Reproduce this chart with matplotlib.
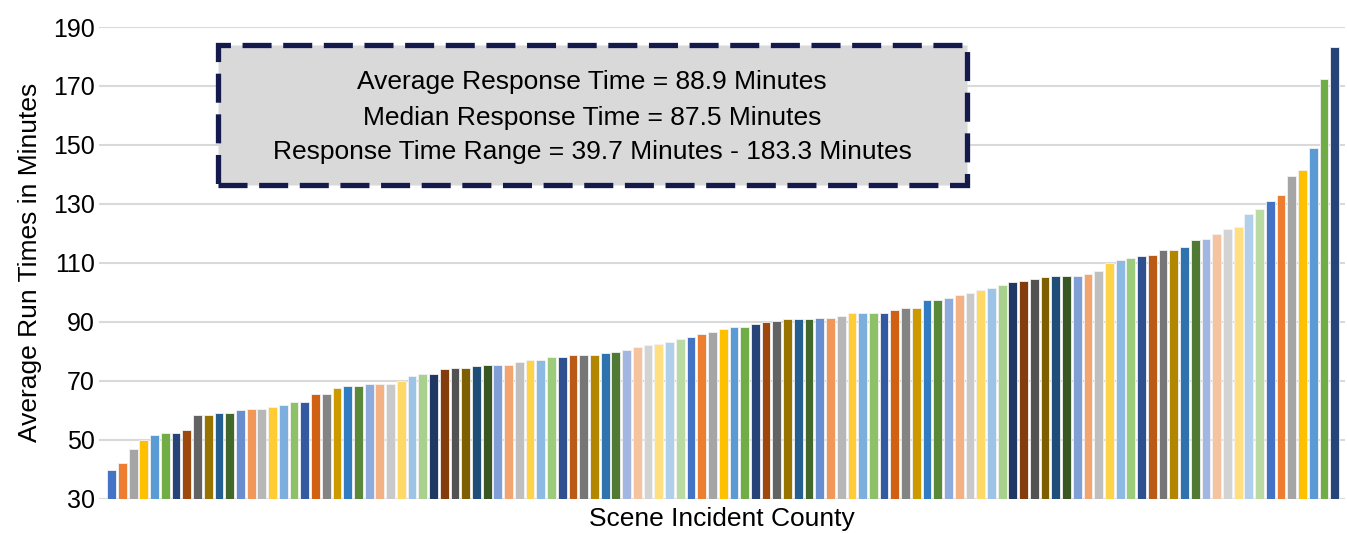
import numpy as np
import matplotlib
matplotlib.use("Agg")
import matplotlib.pyplot as plt
from matplotlib.patches import Rectangle

plt.rcParams["font.family"] = ["Liberation Sans", "DejaVu Sans"]

# average run time per scene incident county, sorted ascending
run_times = [
    39.7, 41.9, 46.9, 49.7, 51.7, 52.4, 52.4, 53.4, 58.5, 58.5,
    58.9, 58.9, 60.0, 60.5, 60.5, 61.1, 61.6, 62.7, 62.8, 65.6,
    65.6, 67.6, 68.3, 68.3, 68.8, 68.8, 68.8, 69.9, 71.5, 72.1,
    72.1, 73.8, 74.4, 74.4, 74.9, 75.4, 75.4, 75.4, 76.4, 77.1,
    77.1, 78.1, 78.1, 78.8, 78.8, 78.8, 79.3, 79.8, 80.4, 81.5,
    82.0, 82.5, 83.1, 84.2, 84.8, 85.9, 86.4, 87.5, 88.1, 88.1,
    89.2, 89.8, 90.3, 90.8, 90.8, 90.8, 91.3, 91.3, 91.9, 93.0,
    93.0, 93.0, 93.0, 94.0, 94.6, 94.6, 97.4, 97.4, 98.0, 99.1,
    99.7, 100.7, 101.3, 102.4, 103.4, 103.9, 104.5, 105.1, 105.6, 105.6,
    105.6, 106.1, 107.3, 109.8, 111.1, 111.6, 112.2, 112.8, 114.5, 114.5,
    115.5, 117.7, 118.2, 119.8, 121.5, 122.0, 126.4, 128.1, 130.8, 133.1,
    139.6, 141.6, 148.9, 172.2, 183.3,
]

# excel "vary colors by point" cycle (6 accents x 9 variations)
palette = [
    "#4472C4", "#ED7D31", "#A5A5A5", "#FFC000", "#5B9BD5", "#70AD47",
    "#264478", "#9E480E", "#636363", "#997300", "#255E91", "#43682B",
    "#698ED0", "#F1975A", "#B7B7B7", "#FFCD33", "#7CAFDD", "#8CC168",
    "#335AA1", "#D26012", "#848484", "#CC9A00", "#327DC2", "#5A8A39",
    "#8FAADC", "#F4B183", "#C9C9C9", "#FFD966", "#9DC3E6", "#A9D18E",
    "#203864", "#843C0C", "#525252", "#7F6000", "#1F4E79", "#385723",
    "#7F9FD6", "#F3A46F", "#BFBFBF", "#FFD347", "#8CBAE2", "#9BCB7B",
    "#2E5090", "#BA5A16", "#767676", "#B38600", "#2E72AE", "#507A33",
    "#A2B6E1", "#F6C3A1", "#D3D3D3", "#FFDF80", "#B0CFEB", "#B9DAA2",
]

y_ticks = [30, 50, 70, 90, 110, 130, 150, 170, 190]

stats_lines = [
    "Average Response Time = 88.9 Minutes",
    "Median Response Time = 87.5 Minutes",
    "Response Time Range = 39.7 Minutes - 183.3 Minutes",
]

fig = plt.figure(figsize=(13.47, 5.33), dpi=100)
ax = fig.add_axes([0.0735, 0.0647, 0.925, 0.8846])

x = np.arange(len(run_times))
colors = [palette[i % len(palette)] for i in range(len(run_times))]
ax.bar(x, np.array(run_times) - 30, bottom=30, width=0.82, color=colors,
       edgecolor="#F2F2F2", linewidth=0.6, zorder=3)

ax.set_ylim(30, 190)
ax.set_xlim(-1.18, 114.96)
ax.set_yticks(y_ticks)
ax.set_xticks([])
ax.grid(axis="y", color="#D9D9D9", linewidth=1.5, zorder=0)
for s in ax.spines.values():
    s.set_visible(False)
ax.tick_params(axis="y", length=0, labelsize=18, pad=3, colors="#000000")

ax.set_ylabel("Average Run Times in Minutes", fontsize=19, labelpad=8)
ax.set_xlabel("Scene Incident County", fontsize=19, labelpad=6)

# stats box
box = Rectangle((0.0955, 0.665), 0.6011, 0.297, transform=ax.transAxes,
                facecolor="#D9D9D9", edgecolor="#141A4C", linewidth=3.8,
                linestyle=(0, (5.5, 2.2)), zorder=5)
ax.add_patch(box)
for yy, line in zip([0.884, 0.808, 0.735], stats_lines):
    ax.text(0.3957, yy, line, transform=ax.transAxes, ha="center",
            va="center", fontsize=19, zorder=6)

fig.savefig("out.png", dpi=100)
